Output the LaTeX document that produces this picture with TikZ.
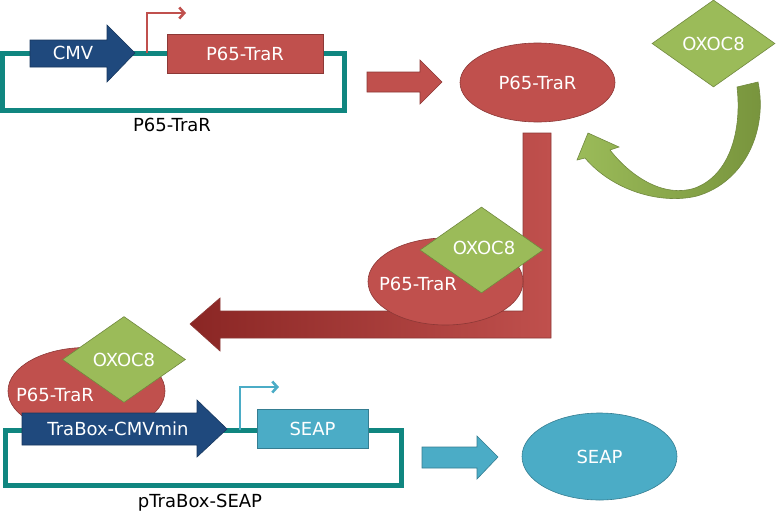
\documentclass[tikz,border=0pt]{standalone}
\usepackage{fontspec}
\setmainfont{DejaVu Sans}
\usetikzlibrary{positioning, arrows.meta, shapes.geometric}

\definecolor{protred}{HTML}{C0504D}
\definecolor{protredline}{HTML}{8C3836}
\definecolor{darkred}{HTML}{8A2624}
\definecolor{cmvblue}{HTML}{1F497D}
\definecolor{cmvblueline}{HTML}{17375E}
\definecolor{plasmidteal}{HTML}{108680}
\definecolor{ligand}{HTML}{9BBB59}
\definecolor{ligandline}{HTML}{71893F}
\definecolor{ligandshade}{HTML}{77933C}
\definecolor{seap}{HTML}{4BACC6}
\definecolor{seapline}{HTML}{357D91}

\tikzset{
    txt/.style={font=\fontsize{18}{21}\selectfont, inner sep=0pt},
    wtxt/.style={txt, text=white},
    plasmid/.style={draw=plasmidteal, line width=5pt},
    promoter/.style={draw=#1, line width=2.6pt, -{Straight Barb[length=5pt,width=11pt]}},
    blockarrow/.style={draw=#1line, fill=#1, line width=0.6pt, line join=miter},
    genebox/.style={draw=#1line, fill=#1, line width=0.8pt},
    prot/.style={ellipse, draw=protredline, fill=protred, line width=0.6pt,
        minimum width=155pt, minimum height=87pt, inner sep=0pt},
    oxoc/.style={diamond, draw=ligandline, fill=ligand, line width=0.6pt,
        minimum width=123pt, minimum height=86pt, inner sep=0pt}
}

\begin{document}
\begin{tikzpicture}[x=1pt, y=-1pt]
    \useasboundingbox (0,0) rectangle (776,514);

    % plasmid P65-TraR
    \draw[plasmid] (2.5,53) rectangle (344.5,110);
    \draw[blockarrow=cmvblue] (30,40) -- (107,40) -- (107,25) -- (135,53)
        -- (107,82) -- (107,67) -- (30,67) -- cycle;
    \node[wtxt] (cmv) at (73,53) {CMV};
    \coordinate (tssA) at (147,53);
    \coordinate (tssAend) at (186,13);
    \draw[promoter=protred] (tssA) |- (tssAend);
    \draw[genebox=protred] (167,34) rectangle (323,73);
    \node[wtxt] (traRgene) at (245,53.5) {P65-TraR};
    \node[txt] (plasmidA) at (172,125) {P65-TraR};

    % expression
    \draw[blockarrow=protred] (367,72) -- (420,72) -- (420,60) -- (442,82)
        -- (420,104) -- (420,92) -- (367,92) -- cycle;
    \node[prot, minimum height=79pt] (traR) at (537.5,82.5) {};
    \node[wtxt] at (traR) {P65-TraR};

    % ligand
    \node[oxoc, minimum height=87pt] (oxoA) at (713.5,43.5) {};
    \node[wtxt] at (oxoA) {OXOC8};

    % binding
    \shade[left color=ligand, right color=ligandshade, draw=ligandline, line width=0.6pt]
        (737,87) .. controls (742,130) and (730,175) .. (695,188)
        .. controls (665,198) and (632,178) .. (610,150)
        -- (619,147) -- (588,133) -- (577,160) -- (585,158)
        .. controls (612,190) and (660,205) .. (697,196)
        .. controls (745,182) and (768,130) .. (758,82) -- cycle;

    % complex to target promoter
    \shade[left color=darkred, right color=protred, draw=protredline, line width=0.6pt]
        (190,324) -- (220,298) -- (220,311) -- (523,311) -- (523,133)
        -- (551,133) -- (551,338) -- (220,338) -- (220,351) -- cycle;
    \node[prot] (cplxA) at (445.5,281.5) {};
    \node[wtxt] (cplxAtxt) at (418,284) {P65-TraR};
    \node[oxoc] (oxoB) at (481.5,250) {};
    \node[wtxt] at (484,248) {OXOC8};

    % plasmid pTraBox-SEAP
    \draw[plasmid] (5.5,430) rectangle (401,485);
    \node[prot, minimum width=157pt] (cplxB) at (86.5,391) {};
    \node[wtxt] (cplxBtxt) at (55,395) {P65-TraR};
    \node[oxoc] (oxoC) at (124,359.5) {};
    \node[wtxt] at (124,360) {OXOC8};
    \draw[blockarrow=cmvblue] (22,413) -- (197,413) -- (197,400) -- (227,429)
        -- (197,457) -- (197,445) -- (22,445) -- cycle;
    \node[wtxt] (trabox) at (118,428.5) {TraBox-CMVmin};
    \coordinate (tssB) at (240,430);
    \coordinate (tssBend) at (279,387);
    \draw[promoter=seap] (tssB) |- (tssBend);
    \draw[genebox=seap] (257,409) rectangle (368,448);
    \node[wtxt] (seapgene) at (312.5,428.5) {SEAP};
    \node[txt] (plasmidB) at (200,503) {pTraBox-SEAP};

    % secretion
    \draw[blockarrow=seap] (422,447) -- (477,447) -- (477,436) -- (498,457)
        -- (477,479) -- (477,468) -- (422,468) -- cycle;
    \node[ellipse, draw=seapline, fill=seap, line width=0.6pt, minimum width=155pt,
        minimum height=87pt, inner sep=0pt] (seapprot) at (599.5,456.5) {};
    \node[wtxt] at (seapprot) {SEAP};
\end{tikzpicture}
\end{document}
